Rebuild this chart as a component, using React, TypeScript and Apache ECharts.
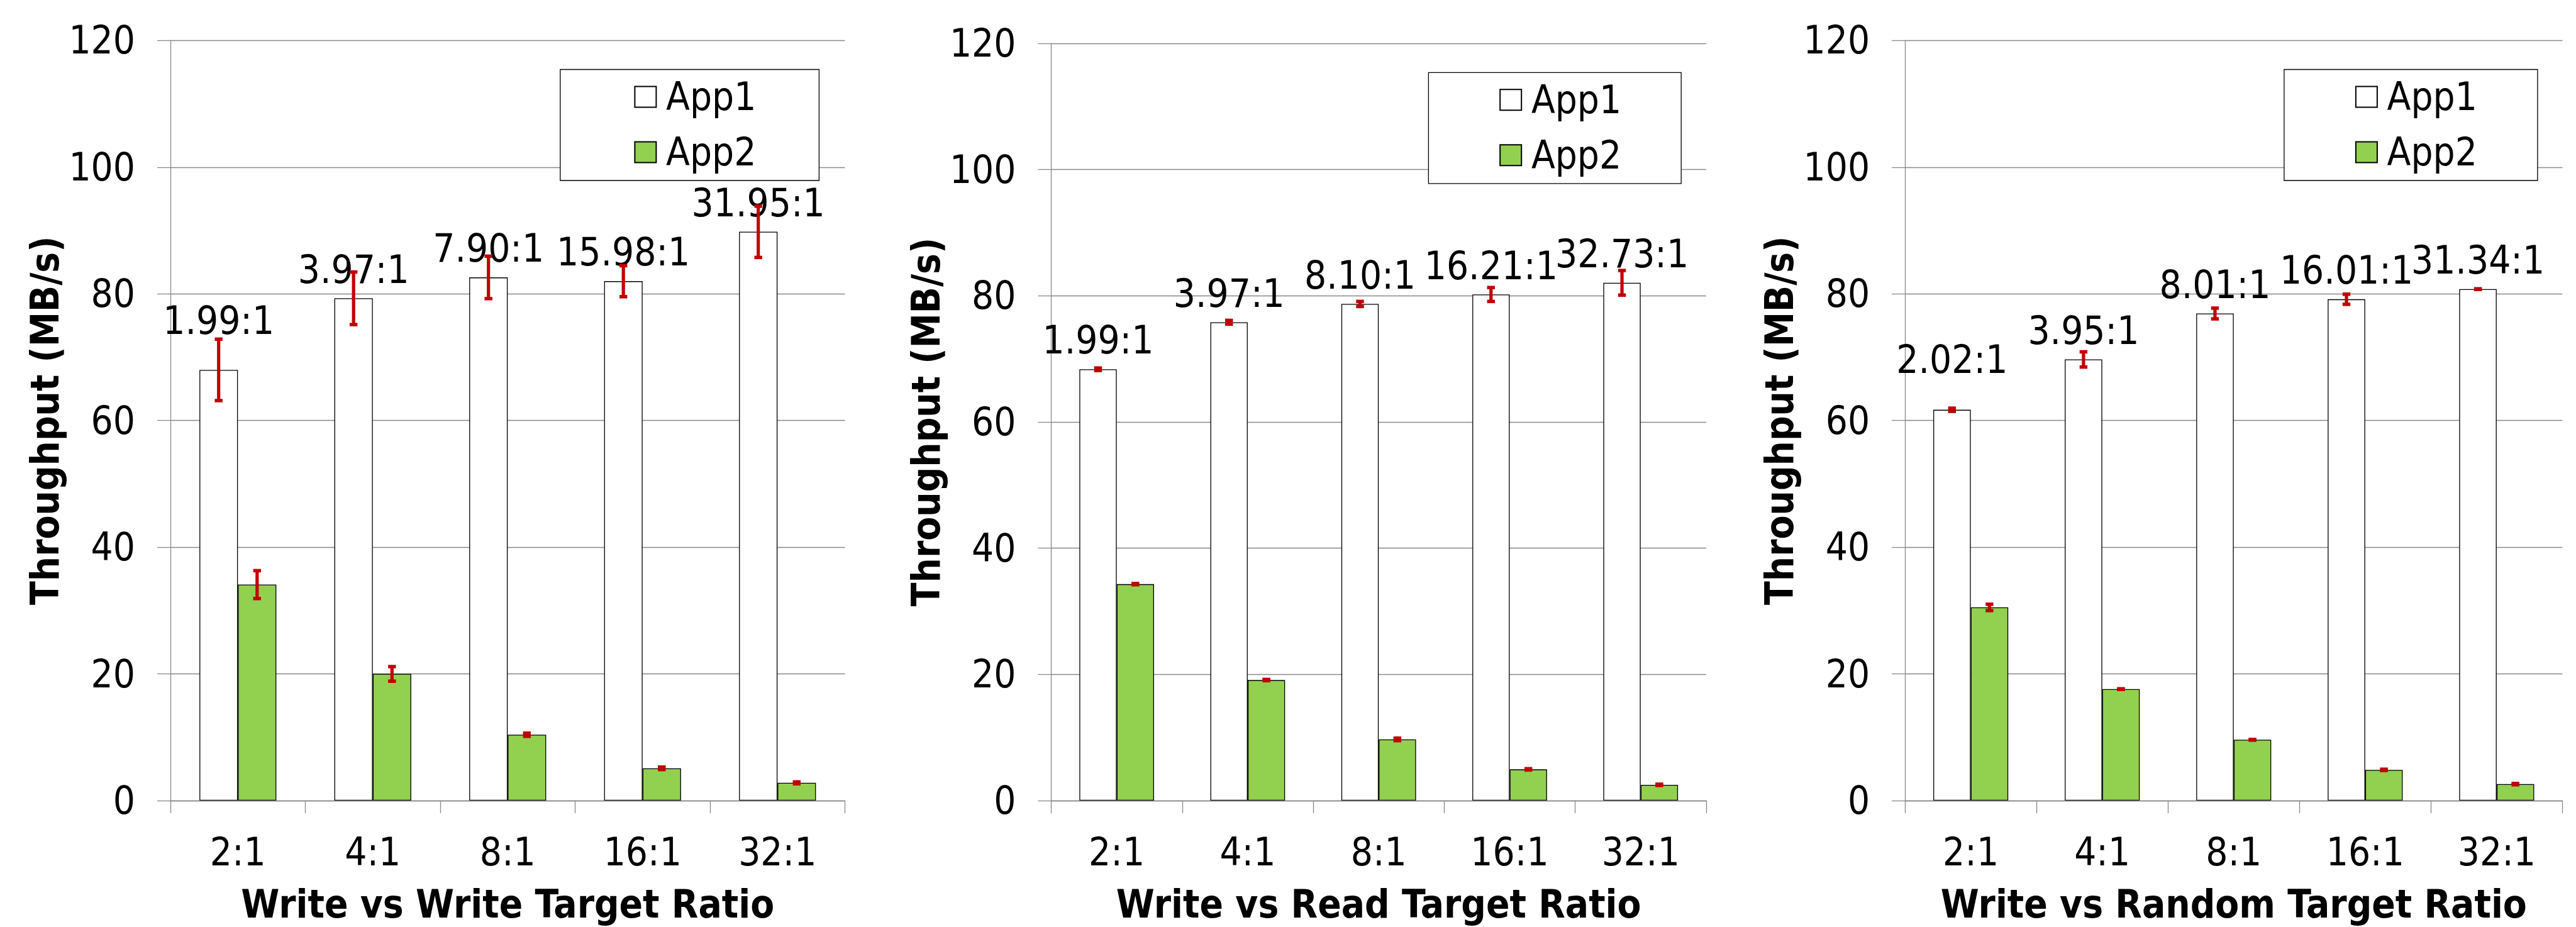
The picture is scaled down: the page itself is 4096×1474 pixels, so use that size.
import React, { useEffect, useRef } from "react";
import * as echarts from "echarts";

// ---------- data ----------
const categories = ["2:1", "4:1", "8:1", "16:1", "32:1"];

const writeApp1 = [68.0, 79.3, 82.6, 82.0, 89.8];
const writeApp1Err = [4.85, 4.15, 3.35, 2.45, 4.05];
const writeApp2 = [34.1, 20.0, 10.4, 5.1, 2.8];
const writeApp2Err = [2.2, 1.15, 0.25, 0.2, 0.15];
const writeRatios = ["1.99:1", "3.97:1", "7.90:1", "15.98:1", "31.95:1"];

const readApp1 = [68.35, 75.8, 78.7, 80.2, 82.05];
const readApp1Err = [0.2, 0.3, 0.4, 1.1, 1.95];
const readApp2 = [34.3, 19.1, 9.7, 4.95, 2.5];
const readApp2Err = [0.1, 0.1, 0.2, 0.1, 0.1];
const readRatios = ["1.99:1", "3.97:1", "8.10:1", "16.21:1", "32.73:1"];

const randomApp1 = [61.7, 69.65, 76.9, 79.15, 80.75];
const randomApp1Err = [0.25, 1.2, 0.85, 0.8, 0.05];
const randomApp2 = [30.5, 17.6, 9.6, 4.85, 2.6];
const randomApp2Err = [0.5, 0.05, 0.05, 0.1, 0.1];
const randomRatios = ["2.02:1", "3.95:1", "8.01:1", "16.01:1", "31.34:1"];

const yTitle = "Throughput (MB/s)";
const xTitles = [
  "Write vs Write Target Ratio",
  "Write vs Read Target Ratio",
  "Write vs Random Target Ratio",
];
const seriesNames = ["App1", "App2"];

const panelsData = [
  { app1: writeApp1, app1Err: writeApp1Err, app2: writeApp2, app2Err: writeApp2Err, ratios: writeRatios },
  { app1: readApp1, app1Err: readApp1Err, app2: readApp2, app2Err: readApp2Err, ratios: readRatios },
  { app1: randomApp1, app1Err: randomApp1Err, app2: randomApp2, app2Err: randomApp2Err, ratios: randomRatios },
];

// ---------- layout / style ----------
const FONT = '"DejaVu Sans Condensed", "DejaVu Sans", sans-serif';
const GRID_COLOR = "#898989";
const GREEN = "#92D050";
const RED = "#C00000";
const FS = 61.5;
const TITLE_FS = 61.5;
const BAR_FRAC = 0.285;
const LABEL_DIST = 14.7;

const layouts = [
  { left: 271.0, top: 64.4, width: 1072.5, height: 1208.9, legLeft: 890.8, legTop: 110.5, padL: 117.6, padR: 100, raise: [32, 0, 0, 0, 0] },
  { left: 1671.5, top: 68.9, width: 1041.4, height: 1208.9, legLeft: 2271.4, legTop: 115.3, padL: 112.8, padR: 95, raise: [0, 0, 0, 0, 0] },
  { left: 3029.1, top: 64.4, width: 1045.3, height: 1208.9, legLeft: 3631.9, legTop: 110.5, padL: 113, padR: 96, raise: [34, 0, 0, 0, 0] },
];

const errRender = (params: any, api: any) => {
  const cat = api.value(0);
  const val = api.value(1);
  const err = api.value(2);
  const side = api.value(3);
  const c = api.coord([cat, val]);
  const band = api.size([1, 0])[0];
  const bw = band * BAR_FRAC;
  const x = c[0] + (side * bw) / 2;
  const yTop = api.coord([cat, val + err])[1];
  const yBot = api.coord([cat, val - err])[1];
  const cap = 6.2;
  return {
    type: "group",
    children: [
      { type: "line", shape: { x1: x, y1: yTop, x2: x, y2: yBot }, style: { stroke: RED, lineWidth: 5.2 } },
      { type: "line", shape: { x1: x - cap, y1: yTop, x2: x + cap, y2: yTop }, style: { stroke: RED, lineWidth: 5.5 } },
      { type: "line", shape: { x1: x - cap, y1: yBot, x2: x + cap, y2: yBot }, style: { stroke: RED, lineWidth: 5.5 } },
    ],
  };
};

function buildOption() {
  const grid: any[] = [];
  const xAxis: any[] = [];
  const yAxis: any[] = [];
  const legend: any[] = [];
  const series: any[] = [];
  const axisLineStyle = { color: GRID_COLOR, width: 1.3 };
  const titleStyle = { fontSize: TITLE_FS, fontWeight: "bold", fontFamily: FONT, color: "#000", lineHeight: 62 };

  panelsData.forEach((p, i) => {
    const L = layouts[i];
    grid.push({ left: L.left, top: L.top, width: L.width, height: L.height });
    xAxis.push({
      type: "category",
      gridIndex: i,
      data: categories,
      boundaryGap: true,
      z: 3,
      axisLine: { show: true, lineStyle: axisLineStyle },
      axisTick: { show: true, length: 20, interval: 0, alignWithLabel: false, lineStyle: axisLineStyle },
      axisLabel: { interval: 0, margin: 51, fontSize: FS, lineHeight: 62, fontFamily: FONT, color: "#000" },
      name: xTitles[i],
      nameLocation: "middle",
      nameGap: 134,
      nameTextStyle: titleStyle,
    });
    yAxis.push({
      type: "value",
      gridIndex: i,
      min: 0,
      max: 120,
      interval: 20,
      axisLine: { show: true, lineStyle: axisLineStyle },
      axisTick: { show: true, length: 21, lineStyle: axisLineStyle },
      splitLine: { show: true, lineStyle: axisLineStyle },
      axisLabel: { margin: 56, fontSize: FS, fontFamily: FONT, color: "#000" },
      name: yTitle,
      nameLocation: "middle",
      nameRotate: 90,
      nameGap: 168,
      nameTextStyle: titleStyle,
    });
    legend.push({
      left: L.legLeft,
      top: L.legTop,
      orient: "vertical",
      itemWidth: 34,
      itemHeight: 33,
      itemGap: 26,
      padding: [12.5, L.padR, 14, L.padL],
      borderColor: "#000",
      borderWidth: 1.3,
      backgroundColor: "#fff",
      selectedMode: false,
      textStyle: { fontFamily: FONT, fontSize: FS, color: "#000", lineHeight: 40, padding: [0, 0, 0, 10.7] },
      data: seriesNames.map((n) => ({ name: n, icon: "rect" })),
    });
    series.push({
      type: "bar",
      name: seriesNames[0],
      xAxisIndex: i,
      yAxisIndex: i,
      barWidth: (BAR_FRAC * 100).toFixed(1) + "%",
      barGap: "0%",
      itemStyle: { color: "#fff", borderColor: "#000", borderWidth: 1.3 },
      label: { show: true, position: "top", distance: LABEL_DIST, fontSize: FS, lineHeight: 62, fontFamily: FONT, color: "#000" },
      data: p.app1.map((v, j) => ({ value: v, label: { formatter: p.ratios[j], distance: LABEL_DIST + L.raise[j] } })),
    });
    series.push({
      type: "bar",
      name: seriesNames[1],
      xAxisIndex: i,
      yAxisIndex: i,
      barWidth: (BAR_FRAC * 100).toFixed(1) + "%",
      barGap: "0%",
      itemStyle: { color: GREEN, borderColor: "#000", borderWidth: 1.3 },
      data: p.app2,
    });
    series.push({
      type: "custom",
      xAxisIndex: i,
      yAxisIndex: i,
      z: 5,
      renderItem: errRender,
      data: p.app1.map((v, j) => [j, v, p.app1Err[j], -1]),
    });
    series.push({
      type: "custom",
      xAxisIndex: i,
      yAxisIndex: i,
      z: 5,
      renderItem: errRender,
      data: p.app2.map((v, j) => [j, v, p.app2Err[j], 1]),
    });
  });

  return {
    animation: false,
    backgroundColor: "#fff",
    textStyle: { fontFamily: FONT },
    grid,
    xAxis,
    yAxis,
    legend,
    series,
  };
}

export default function App() {
  const ref = useRef<HTMLDivElement>(null);
  useEffect(() => {
    if (!ref.current) return;
    const chart = echarts.init(ref.current, undefined, { renderer: "svg" });
    chart.setOption(buildOption() as any);
    return () => chart.dispose();
  }, []);
  return (
    <div
      ref={ref}
      style={{ position: "fixed", left: 0, top: 0, width: 4096, height: 1474, background: "#fff" }}
    />
  );
}
